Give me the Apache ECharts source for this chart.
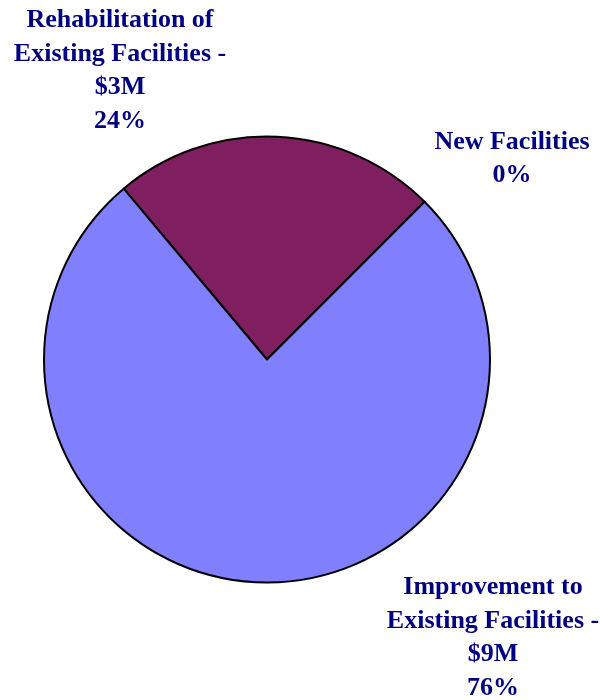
<!DOCTYPE html>
<html>
<head>
<meta charset="utf-8">
<script src="https://cdn.jsdelivr.net/npm/echarts@6/dist/echarts.min.js"></script>
<style>
html,body{margin:0;padding:0;background:#fff;}
#chart{width:602px;height:700px;}
</style>
</head>
<body>
<div id="chart"></div>
<script>
// Data
const categories = ["Rehabilitation of\nExisting Facilities -", "New Facilities", "Improvement to\nExisting Facilities -"];
const amounts = ["$3M", "", "$9M"];
const shares = [23.6, 0, 76.4];   // slice shares (%)
const colors = ["#7F1F5F", "#8080FF", "#8080FF"];

// Label placement (layout only)
const labelPos = [
  {x: 120, y: 71},
  {x: 512, y: 159},
  {x: 493, y: 638}
];

const chart = echarts.init(document.getElementById('chart'), null, {renderer: 'canvas'});
chart.setOption({
  animation: false,
  series: [{
    type: 'pie',
    center: [267, 359.5],
    radius: [0, 223],
    startAngle: 130,
    clockwise: true,
    avoidLabelOverlap: false,
    data: categories.map((c, i) => ({
      name: c,
      value: shares[i],
      itemStyle: {color: colors[i]}
    })),
    itemStyle: {borderColor: '#000', borderWidth: 2},
    emphasis: {disabled: true},
    label: {
      show: true,
      color: '#000080',
      fontFamily: '"Liberation Serif", "Times New Roman", serif',
      fontWeight: 'bold',
      fontSize: 26,
      lineHeight: 33.5,
      align: 'center',
      formatter: p => {
        const i = p.dataIndex;
        const lines = [categories[i]];
        if (amounts[i]) lines.push(amounts[i]);
        lines.push(Math.round(shares[i]) + '%');
        return lines.join('\n');
      }
    },
    labelLine: {show: false},
    labelLayout: p => ({
      x: labelPos[p.dataIndex].x,
      y: labelPos[p.dataIndex].y,
      align: 'center',
      verticalAlign: 'middle'
    })
  }]
});
</script>
</body>
</html>
